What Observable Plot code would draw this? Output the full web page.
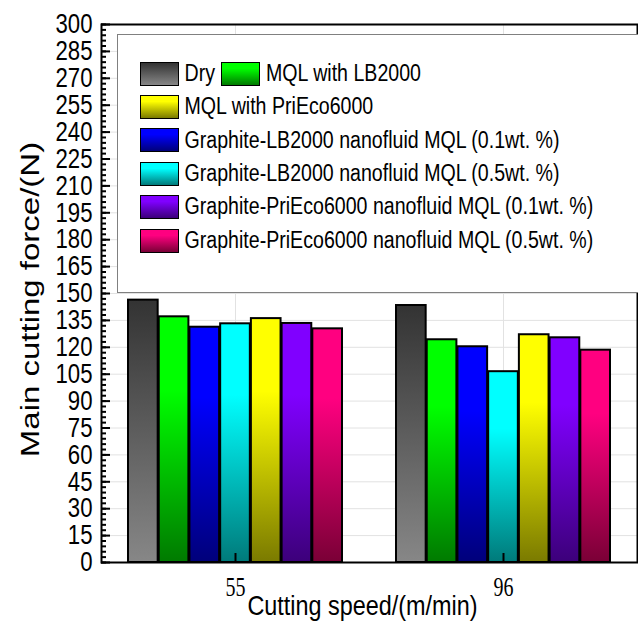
<!DOCTYPE html>
<html>
<head>
<meta charset="utf-8">
<script src="https://cdn.jsdelivr.net/npm/d3@7"></script>
<script src="https://cdn.jsdelivr.net/npm/@observablehq/plot@0.6"></script>
<style>
  body { margin: 0; background: #fff; }
  #wrap { position: relative; width: 638px; height: 627px; }
  #legend {
    position: absolute; left: 117px; top: 34px; width: 511px; height: 235px;
    border: 1.5px solid #808080; background: #fff;
    font-family: "Liberation Sans", Arial, sans-serif;
    font-size: 19.6px; color: #000; padding-top: 22px; padding-left: 21.5px; box-sizing: content-box;
  }
  .row { display: flex; align-items: center; height: 33.4px; white-space: nowrap; }
  .sw { width: 39px; height: 24px; box-sizing: border-box; border: 1.5px solid #000; margin-right: 6px; flex: none; }
  .lab { display: inline-block; line-height: 1; margin-right: 6px; transform: scaleY(1.21); }
</style>
</head>
<body>
<div id="wrap"></div>
<script>
// ---- data ----
const speeds = [55, 96];
const conditions = [
  "Dry",
  "MQL with LB2000",
  "Graphite-LB2000 nanofluid MQL (0.1wt. %)",
  "Graphite-LB2000 nanofluid MQL (0.5wt. %)",
  "MQL with PriEco6000",
  "Graphite-PriEco6000 nanofluid MQL (0.1wt. %)",
  "Graphite-PriEco6000 nanofluid MQL (0.5wt. %)"
];
const force55 = [146.3, 137.0, 131.2, 133.1, 136.0, 133.3, 130.3];
const force96 = [143.3, 124.2, 120.3, 106.4, 127.0, 125.3, 118.4];
const topColors    = ["#333333", "#00ff00", "#0000ff", "#00ffff", "#ffff00", "#8000ff", "#ff0080"];
const bottomColors = ["#878787", "#007a00", "#00007a", "#007a7a", "#7a7a00", "#3c007a", "#7a0036"];
const legendRows = [[0, 1], [4], [2], [3], [5], [6]];
const yMajorTicks = d3.range(0, 301, 15);
const yMinorTicks = d3.range(0, 301, 3);
const yGridTicks = d3.range(15, 300, 15);
const xLabel = "Cutting speed/(m/min)";
const yLabel = "Main cutting force/(N)";

const data = speeds.flatMap((s, gi) =>
  conditions.map((c, ci) => ({speed: s, cond: c, force: (gi === 0 ? force55 : force96)[ci]})));

const sans = "Liberation Sans, Arial, sans-serif";
const serif = "Liberation Serif, Times New Roman, serif";

const W = 638, H = 627, mL = 101, mR = 1, mT = 24, mB = 65;
const xOpts = {type: "band", domain: speeds, paddingInner: 0.2, paddingOuter: 0.097};
// width of one bar inside a speed group, from the library's band scale
const bw = Plot.scale({x: {...xOpts, range: [mL, W - mR]}}).bandwidth / conditions.length;

const chart = Plot.plot({
  width: W, height: H,
  marginLeft: mL, marginRight: mR, marginTop: mT, marginBottom: mB,
  style: {background: "white", overflow: "visible"},
  x: xOpts,
  y: {domain: [0, 300]},
  color: {domain: conditions, range: conditions.map((c, i) => `url(#grad${i})`)},
  marks: [
    Plot.gridY(yGridTicks, {stroke: "#e2e2e2", strokeOpacity: 1}),
    Plot.gridX({stroke: "#e2e2e2", strokeOpacity: 1}),
    ...conditions.map((c, i) =>
      Plot.barY(data.filter(d => d.cond === c), {
        x: "speed", y: "force", fill: "cond", stroke: "black", strokeWidth: 2,
        insetLeft: i * bw, insetRight: (conditions.length - 1 - i) * bw
      })),
    Plot.axisX({tickSize: -9, tickPadding: 24, strokeWidth: 2,
      fontSize: 20, fontFamily: serif, label: null}),
    Plot.axisY(yMajorTicks, {tickSize: 0, tickPadding: 9, fontSize: 22.2, fontFamily: sans, label: null}),
    Plot.axisY(yMinorTicks, {tickSize: -5, strokeWidth: 2, fill: "none", label: null}),
    Plot.axisY(yMajorTicks, {tickSize: -9, strokeWidth: 2, fill: "none", label: null}),
    Plot.frame({stroke: "black", strokeWidth: 2}),
    Plot.text([xLabel], {frameAnchor: "bottom", dy: 44, dx: -7, lineAnchor: "middle",
      fontSize: 23.4, fontFamily: sans, className: "xlab"}),
    Plot.text([yLabel], {frameAnchor: "left", dx: -71, dy: 6, rotate: -90, lineAnchor: "middle",
      textAnchor: "middle", fontSize: 25, fontFamily: sans, className: "ylab"})
  ]
});

// gradients
const svg = d3.select(chart);
const defs = svg.insert("defs", ":first-child");
conditions.forEach((c, i) => {
  const g = defs.append("linearGradient").attr("id", `grad${i}`)
    .attr("x1", 0).attr("y1", 0).attr("x2", 0).attr("y2", 1);
  g.append("stop").attr("offset", "0%").attr("stop-color", topColors[i]);
  g.append("stop").attr("offset", i === 0 ? "0%" : "30%").attr("stop-color", topColors[i]);
  g.append("stop").attr("offset", "100%").attr("stop-color", bottomColors[i]);
});

// the reference's lettering is tall and narrow: stretch glyphs about their anchor
function stretch(sel, sx, sy) {
  sel.each(function () {
    const x = parseFloat(this.getAttribute("x")) || 0, y = parseFloat(this.getAttribute("y")) || 0;
    const t = this.getAttribute("transform") || "";
    this.setAttribute("transform", `${t} translate(${x},${y}) scale(${sx},${sy}) translate(${-x},${-y})`);
  });
}
stretch(svg.selectAll('g[aria-label="y-axis tick label"] text'), 1, 1.24);
stretch(svg.selectAll('g[aria-label="x-axis tick label"] text'), 1, 1.33);
stretch(svg.selectAll(".xlab text"), 1, 1.19);
stretch(svg.selectAll(".ylab text"), 1.32, 1);

const wrap = document.getElementById("wrap");
wrap.appendChild(chart);

// legend
const legend = document.createElement("div");
legend.id = "legend";
legendRows.forEach(row => {
  const r = document.createElement("div");
  r.className = "row";
  row.forEach(i => {
    const sw = document.createElement("span");
    sw.className = "sw";
    sw.style.background = `linear-gradient(to bottom, ${topColors[i]}, ${i === 0 ? topColors[i] + " 0%" : topColors[i] + " 25%"}, ${bottomColors[i]})`;
    const lab = document.createElement("span");
    lab.className = "lab";
    lab.textContent = conditions[i];
    r.appendChild(sw);
    r.appendChild(lab);
  });
  legend.appendChild(r);
});
wrap.appendChild(legend);
</script>
</body>
</html>
